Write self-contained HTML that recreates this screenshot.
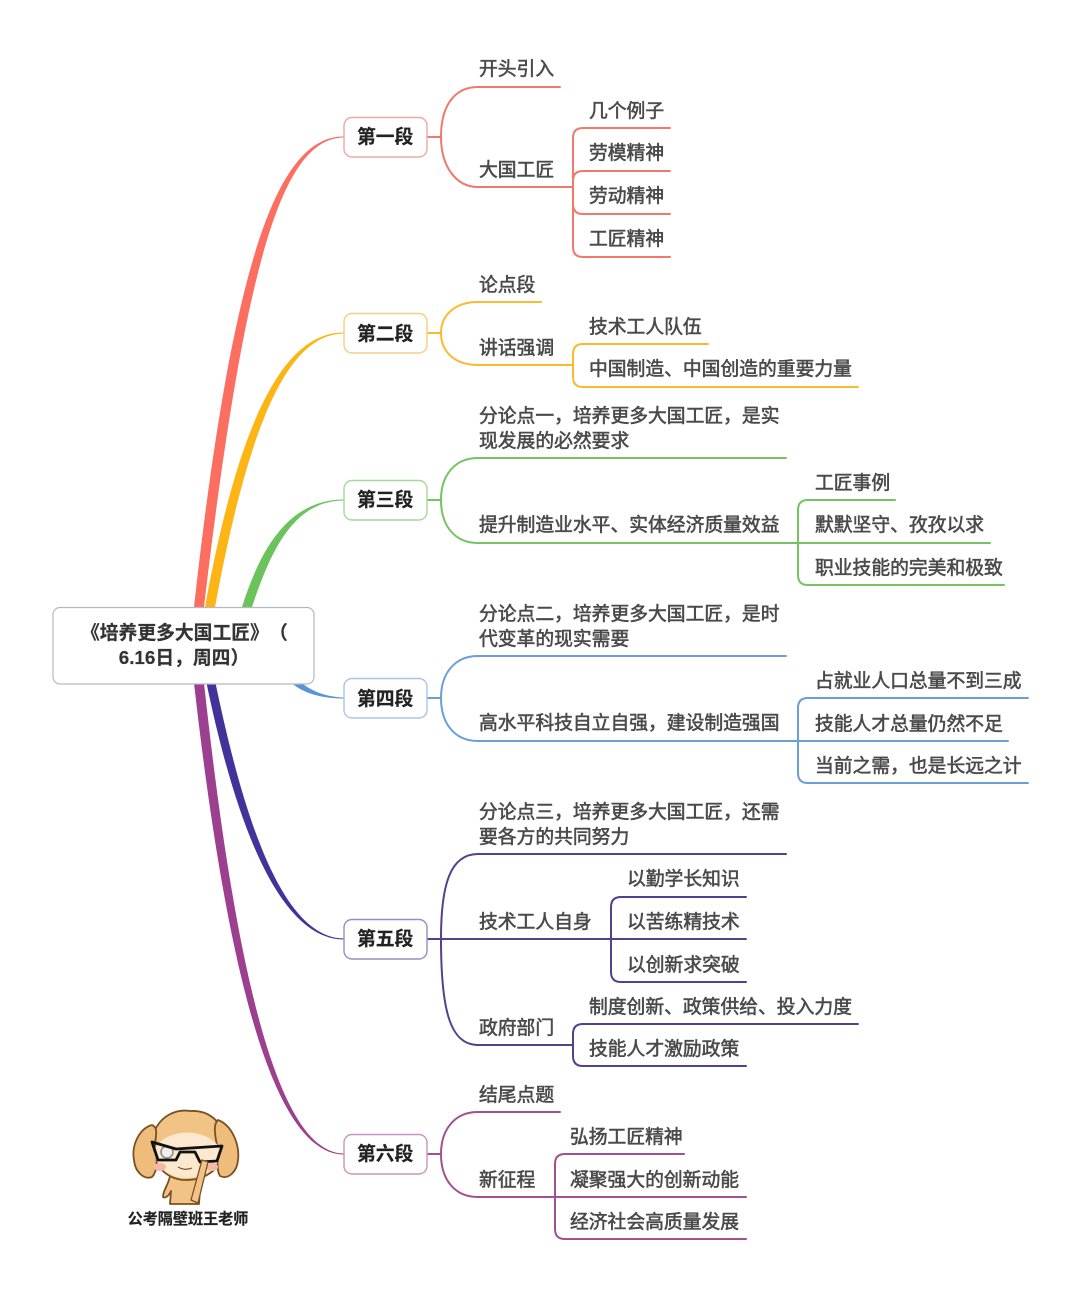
<!DOCTYPE html>
<html lang="zh"><head><meta charset="utf-8"><title>培养更多大国工匠</title>
<style>
html,body{margin:0;padding:0;background:#fff}
svg{display:block}
text{font-family:"Liberation Sans","Noto Sans CJK SC",sans-serif;font-size:18.8px;fill:#4a4a4a;stroke:#4a4a4a;stroke-width:.55px;text-spacing-trim:space-all;font-kerning:none}
.n{font-weight:700;fill:#222;stroke:#222;stroke-width:.2px}
.l{fill:none;stroke-width:2;stroke-linecap:round}
.b{fill:#fff;stroke-width:1.4}
</style></head><body>
<svg width="1080" height="1292" viewBox="0 0 1080 1292" xmlns="http://www.w3.org/2000/svg">
<!-- main branches -->
<path d="M194,612 L194,607 C233,255 279,136 344,136.500 L344,137.500 C283,138 245,259 204,607 L204,612 Z" fill="#fb6e60"/>
<path d="M204,612 L205,607 C238,425 282,332 344,332.500 L344,333.500 C286,334 248,429 215,607 L214,612 Z" fill="#fdb515"/>
<path d="M241,612 L242,607 C260,550 288,499.500 344,499.500 L344,500.500 C292,500.500 270,554 252,607 L250,612 Z" fill="#6cc35b"/>
<path d="M290,672 C305,690 325,697 344,697.500 L344,698.500 C322,698.500 300,694 284,676 Z" fill="#5b93d9"/>
<path d="M206,676 L206.500,683 C230,796 272,939.500 344,939.500 L344,938.500 C276,938.500 238,790 215.500,683 L214,676 Z" fill="#43329a"/>
<path d="M193,676 L194,683 C226,966 272,1154.500 344,1154.500 L344,1153.500 C276,1153.500 234,960 204,683 L203,676 Z" fill="#9b3f8e"/>

<!-- root -->
<rect x="53" y="607.500" width="261" height="76.500" rx="7" fill="#fff" stroke="#b8b8c2" stroke-width="1.200"/>
<text class="n" x="81" y="639" style="fill:#333;stroke:#333">《培养更多大国工匠》</text>
<text class="n" x="269" y="639" style="fill:#333;stroke:#333">（</text>
<text class="n" x="184" y="664" text-anchor="middle" style="fill:#333;stroke:#333">6.16日，周四）</text>

<!-- section 1 -->
<g stroke="#f0796b" fill="none">
<path class="l" d="M427,137 H441 M441,137 C441,105 455,87 478,87 H560 M441,137 C441,165 455,187 478,187 H573"/>
<path class="l" d="M573,187 V138 Q573,128 583,128 H670 M573,187 V181 Q573,171 583,171 H670 M573,187 V204 Q573,214 583,214 H670 M573,187 V247 Q573,257 583,257 H670"/>
</g>
<rect class="b" x="344" y="117.500" width="83" height="39.500" rx="8" stroke="#f0a9a0"/>
<text class="n" x="357" y="143">第一段</text>
<text x="479" y="75">开头引入</text>
<text x="479" y="176">大国工匠</text>
<text x="589" y="117">几个例子</text>
<text x="589" y="159">劳模精神</text>
<text x="589" y="202">劳动精神</text>
<text x="589" y="245">工匠精神</text>

<!-- section 2 -->
<g stroke="#fdb92e" fill="none">
<path class="l" d="M427,333 H441 M441,333 C441,315 455,302 478,302 H541 M441,333 C441,352 455,365 478,365 H573"/>
<path class="l" d="M573,365 V354 Q573,344 583,344 H708 M573,365 V377 Q573,387 583,387 H858"/>
</g>
<rect class="b" x="344" y="313.500" width="83" height="39.500" rx="8" stroke="#f5cf80"/>
<text class="n" x="357" y="340">第二段</text>
<text x="479" y="291">论点段</text>
<text x="479" y="354">讲话强调</text>
<text x="589" y="333">技术工人队伍</text>
<text x="589" y="375">中国制造、中国创造的重要力量</text>

<!-- section 3 -->
<g stroke="#74c463" fill="none">
<path class="l" d="M427,500 H441 M441,500 C441,475 455,458 478,458 H786 M441,500 C441,526 455,543 478,543 H798"/>
<path class="l" d="M798,543 V510 Q798,500 808,500 H895 M798,543 H990 M798,543 V575 Q798,585 808,585 H1004"/>
</g>
<rect class="b" x="344" y="480.500" width="83" height="39.500" rx="8" stroke="#a5d99a"/>
<text class="n" x="357" y="506">第三段</text>
<text x="479" y="422">分论点一，培养更多大国工匠，是实</text>
<text x="479" y="447">现发展的必然要求</text>
<text x="479" y="531">提升制造业水平、实体经济质量效益</text>
<text x="815" y="489">工匠事例</text>
<text x="815" y="531">默默坚守、孜孜以求</text>
<text x="815" y="574">职业技能的完美和极致</text>

<!-- section 4 -->
<g stroke="#6a9fd8" fill="none">
<path class="l" d="M427,698 H441 M441,698 C441,673 455,656 478,656 H786 M441,698 C441,724 455,741 478,741 H798"/>
<path class="l" d="M798,741 V708 Q798,698 808,698 H1028 M798,741 H1008 M798,741 V773 Q798,783 808,783 H1028"/>
</g>
<rect class="b" x="344" y="678.500" width="83" height="39.500" rx="8" stroke="#a8c6e6"/>
<text class="n" x="357" y="705">第四段</text>
<text x="479" y="620">分论点二，培养更多大国工匠，是时</text>
<text x="479" y="645">代变革的现实需要</text>
<text x="479" y="729">高水平科技自立自强，建设制造强国</text>
<text x="815" y="687">占就业人口总量不到三成</text>
<text x="815" y="730">技能人才总量仍然不足</text>
<text x="815" y="772">当前之需，也是长远之计</text>

<!-- section 5 -->
<g stroke="#54408f" fill="none">
<path class="l" d="M427,939 H611 M441,939 C441,885 450,854 478,854 H786 M441,939 C441,1010 450,1045 478,1045 H573"/>
<path class="l" d="M611,939 V907 Q611,897 621,897 H746 M611,939 H746 M611,939 V972 Q611,982 621,982 H746"/>
<path class="l" d="M573,1045 V1034 Q573,1024 583,1024 H858 M573,1045 V1056 Q573,1066 583,1066 H746"/>
</g>
<rect class="b" x="344" y="919.500" width="83" height="39.500" rx="8" stroke="#9a8dc0"/>
<text class="n" x="357" y="945">第五段</text>
<text x="479" y="818">分论点三，培养更多大国工匠，还需</text>
<text x="479" y="843">要各方的共同努力</text>
<text x="479" y="928">技术工人自身</text>
<text x="479" y="1034">政府部门</text>
<text x="627" y="885">以勤学长知识</text>
<text x="627" y="928">以苦练精技术</text>
<text x="627" y="971">以创新求突破</text>
<text x="589" y="1013">制度创新、政策供给、投入力度</text>
<text x="589" y="1055">技能人才激励政策</text>

<!-- section 6 -->
<g stroke="#a3508f" fill="none">
<path class="l" d="M427,1154 H441 M441,1154 C441,1129 455,1112 478,1112 H560 M441,1154 C441,1180 455,1197 478,1197 H555"/>
<path class="l" d="M555,1197 V1164 Q555,1154 565,1154 H684 M555,1197 H746 M555,1197 V1229 Q555,1239 565,1239 H746"/>
</g>
<rect class="b" x="344" y="1134.500" width="83" height="39.500" rx="8" stroke="#c795bd"/>
<text class="n" x="357" y="1160">第六段</text>
<text x="479" y="1101">结尾点题</text>
<text x="479" y="1186">新征程</text>
<text x="570" y="1143">弘扬工匠精神</text>
<text x="570" y="1186">凝聚强大的创新动能</text>
<text x="570" y="1228">经济社会高质量发展</text>

<!-- mascot -->
<g stroke="#7a4f24" stroke-width="1.800" stroke-linejoin="round">
<path d="M170,1176 C168,1186 163,1190 163,1197 C166,1199 170,1194 171,1191 L170,1204 L199,1204 L201,1176 Z" fill="#f1c384"/>
<path d="M153,1135 C160,1114 178,1109 190,1111 C208,1110 222,1120 226,1142 C228,1160 212,1180 186,1180 C165,1180 148,1162 153,1135 Z" fill="#f1c384"/>
<path d="M152,1125 C140,1128 131,1145 134,1160 C135,1172 144,1180 152,1177 C157,1172 158,1160 155,1150 C154,1140 160,1128 152,1125 Z" fill="#eebd7b"/>
<path d="M218,1120 C232,1125 240,1145 238,1160 C237,1172 228,1180 220,1176 C216,1170 218,1158 218,1150 C216,1140 212,1125 218,1120 Z" fill="#eebd7b"/>
<path d="M154,1150 C165,1128 205,1126 220,1148 C222,1165 208,1178 186,1178 C168,1178 155,1166 154,1150 Z" fill="#fbe8cf" stroke="none"/>
<ellipse cx="160" cy="1167" rx="6" ry="4" fill="#f6b7a5" stroke="none"/>
<ellipse cx="212" cy="1167" rx="6" ry="4" fill="#f6b7a5" stroke="none"/>
<circle cx="167" cy="1152" r="6" fill="#eee" stroke="#888" stroke-width="1.500"/>
<path d="M152,1142 L176,1149 L222,1146 L217,1161 L200,1162 L195,1152 L180,1152 L176,1160 L158,1160 Z" fill="none" stroke="#111" stroke-width="2.800"/>
<path d="M178,1167 q7,4 14,1" fill="none" stroke="#7a4f24" stroke-width="1.200"/>
<path d="M202,1160 L191,1200 L198,1203 L208,1162 Z" fill="#f1c384" stroke-width="1.300"/>
</g>
<text x="188" y="1224" text-anchor="middle" style="font-size:15.100px;font-weight:700;fill:#222;stroke:#222;stroke-width:.2px">公考隔壁班王老师</text>
</svg>
</body></html>
